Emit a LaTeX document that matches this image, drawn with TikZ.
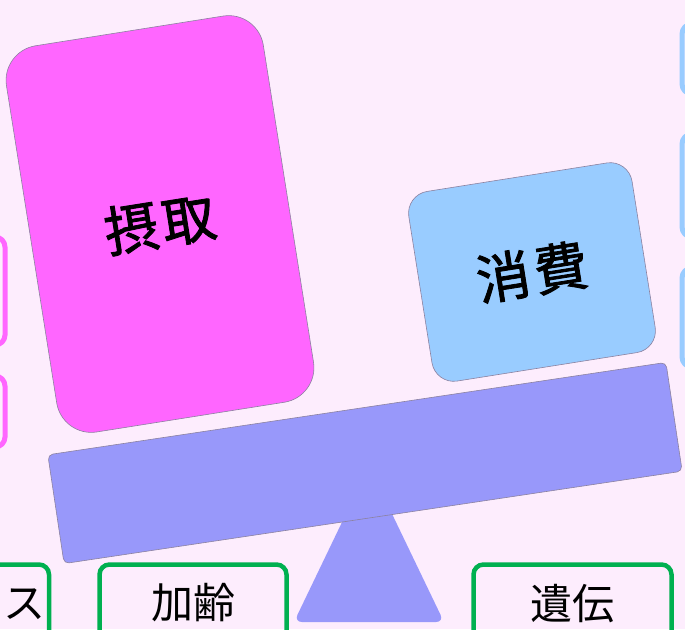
\documentclass[tikz,border=0pt]{standalone}
\usepackage{fontspec}
\newfontfamily\jp{Noto Sans CJK JP}
\newfontfamily\jpheavy[FakeBold=1.6]{Noto Sans CJK JP}
\definecolor{bg}{RGB}{253,237,253}
\definecolor{pinkfill}{RGB}{255,102,255}
\definecolor{bluefill}{RGB}{153,204,255}
\definecolor{beamfill}{RGB}{152,152,250}
\definecolor{greenline}{RGB}{0,176,80}
\definecolor{edge}{RGB}{140,130,160}
\begin{document}
\begin{tikzpicture}[x=1pt,y=-1pt,
  bigbox/.style={draw=edge, line width=0.6pt, inner sep=0pt, rotate=9,
                 font=\jpheavy\fontsize{54}{60}\selectfont},
  smalltext/.style={font=\jp\fontsize{42}{46}\selectfont, inner sep=0pt},
  greenbox/.style={draw=greenline, line width=4.5pt, rounded corners=10pt},
  pinkframe/.style={draw=pinkfill, line width=5pt, rounded corners=10pt},
  blueframe/.style={draw=bluefill, line width=5pt, rounded corners=10pt}]
\useasboundingbox (0,0) rectangle (685,629);
\clip (0,0) rectangle (685,629);
\fill[bg] (0,0) rectangle (685,629);

% partial frames at the left and right edges
\draw[pinkframe] (-60,237) rectangle (5,345);
\draw[pinkframe] (-60,376) rectangle (5,447);
\draw[blueframe] (682,24) rectangle (760,94);
\draw[blueframe] (682,134) rectangle (760,237);
\draw[blueframe] (682,268) rectangle (760,367);

% fulcrum
\coordinate (apex) at (369,466);
\coordinate (baseL) at (294,622);
\coordinate (baseR) at (444,622);
\fill[beamfill, rounded corners=8pt] (apex) -- (baseR) -- (baseL) -- cycle;

% beam
\node[bigbox, fill=beamfill, rounded corners=5pt, rotate=-0.5,
      minimum width=625pt, minimum height=110pt] (beam) at (365,463) {};

% pans
\node[bigbox, fill=pinkfill, rounded corners=35pt,
      minimum width=260pt, minimum height=391pt] (intake) at (160,224) {摂\kern4pt取};

\node[bigbox, fill=bluefill, rounded corners=22pt,
      minimum width=226pt, minimum height=192pt] (use) at (532,272) {消\kern4pt費};

% bottom factor boxes
\draw[greenbox] (-141,564.5) rectangle (49,680);
\node[smalltext, anchor=east] (stress) at (45.5,603) {ストレス};
\draw[greenbox] (99.5,564.5) rectangle (286.5,680);
\node[smalltext] (aging) at (193,603) {加齢};
\draw[greenbox] (473.5,564.5) rectangle (671.5,680);
\node[smalltext] (gene) at (572,604) {遺伝};
\end{tikzpicture}
\end{document}
